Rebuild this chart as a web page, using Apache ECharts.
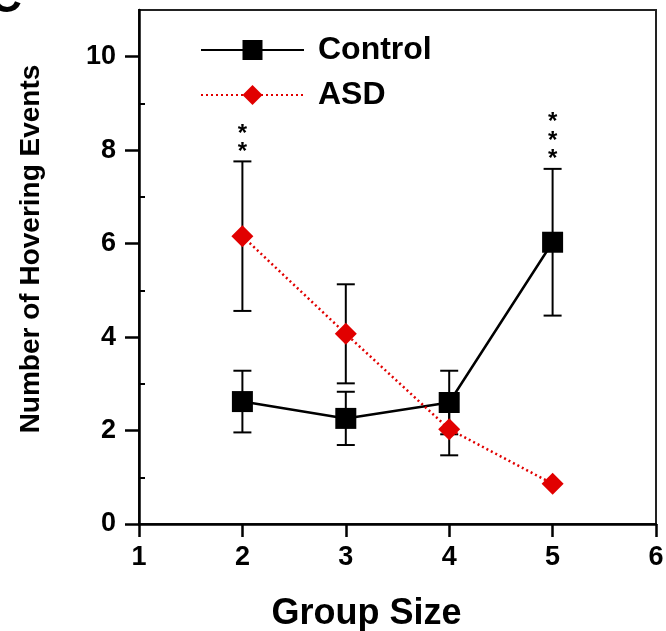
<!DOCTYPE html>
<html>
<head>
<meta charset="utf-8">
<script src="https://cdn.jsdelivr.net/npm/echarts@6/dist/echarts.min.js"></script>
<style>
  html, body { margin: 0; padding: 0; background: #fff; }
  #chart { width: 666px; height: 631px; }
</style>
</head>
<body>
<div id="chart"></div>
<script>
// Hovering events by group size (mean ± error)
const groupSizes = [2, 3, 4, 5];
const controlMean = [2.62, 2.26, 2.6, 6.03];
const controlErr = [0.66, 0.57, 0.68, 1.57];
const asdMean = [6.16, 4.07, 2.03, 0.86];
const asdErr = [1.6, 1.06, 0.56, 0];

// significance markers
const sigGroups = [2, 5];
const sigStars = ['**', '***'];

// axis ticks
const xTicks = [1, 2, 3, 4, 5, 6];
const yTicks = [0, 2, 4, 6, 8, 10];
const yMinorTicks = [1, 3, 5, 7, 9];

const FONT = '"Liberation Sans", Arial, Helvetica, sans-serif';
const RED = '#e10000';

function errorBars(means, errs) {
  return {
    type: 'custom',
    silent: true,
    z: 1,
    data: groupSizes.map((g, i) => [g, means[i] - errs[i], means[i] + errs[i]]),
    renderItem(params, api) {
      const x = api.value(0), lo = api.value(1), hi = api.value(2);
      if (hi - lo <= 0) return null;
      const a = api.coord([x, lo]);
      const b = api.coord([x, hi]);
      const cap = 9;
      const st = { stroke: '#000', lineWidth: 2 };
      return {
        type: 'group',
        children: [
          { type: 'line', shape: { x1: a[0], y1: a[1], x2: b[0], y2: b[1] }, style: st },
          { type: 'line', shape: { x1: a[0] - cap, y1: a[1], x2: a[0] + cap, y2: a[1] }, style: st },
          { type: 'line', shape: { x1: b[0] - cap, y1: b[1], x2: b[0] + cap, y2: b[1] }, style: st }
        ]
      };
    }
  };
}

// star labels sit above the highest error cap of each group
const sigData = sigGroups.map(g => {
  const i = groupSizes.indexOf(g);
  return [g, Math.max(controlMean[i] + controlErr[i], asdMean[i] + asdErr[i])];
});

const chart = echarts.init(document.getElementById('chart'), null, { renderer: 'canvas' });

chart.setOption({
  animation: false,
  backgroundColor: '#fff',
  graphic: [{
    type: 'text', left: -10, top: -22,
    style: { text: 'C', font: 'bold 44px ' + FONT, fill: '#000' }
  }],
  grid: {
    left: 139, right: 10, top: 10, bottom: 107,
    outerBoundsMode: 'none',
    show: true, borderColor: '#222', borderWidth: 2, backgroundColor: 'transparent'
  },
  legend: {
    left: 195, top: 29, orient: 'vertical',
    itemWidth: 103, itemHeight: 25, itemGap: 13,
    selectedMode: false,
    textStyle: { fontFamily: FONT, fontSize: 32, fontWeight: 'bold', color: '#000', lineHeight: 32, padding: [0, 0, 0, 9] },
    data: ['Control', 'ASD']
  },
  xAxis: {
    type: 'value', min: 1, max: 6, interval: 1,
    axisLine: { lineStyle: { color: '#000', width: 2.5 } },
    axisTick: { show: true, length: 13, lineStyle: { color: '#000', width: 2.5 }, customValues: xTicks },
    axisLabel: { fontFamily: FONT, fontSize: 27, fontWeight: 'bold', color: '#000', margin: 20, customValues: xTicks },
    splitLine: { show: false },
    name: 'Group Size', nameLocation: 'middle', nameGap: 72,
    nameTextStyle: { fontFamily: FONT, fontSize: 36, fontWeight: 'bold', color: '#000', padding: [0, 62, 0, 0] }
  },
  yAxis: [{
    type: 'value', min: 0, max: 11, interval: 1, position: 'left',
    axisLine: { show: true, lineStyle: { color: '#000', width: 2.5 } },
    axisTick: { show: true, length: 14, lineStyle: { color: '#000', width: 2.5 }, customValues: yTicks },
    axisLabel: { fontFamily: FONT, fontSize: 27, fontWeight: 'bold', color: '#000', margin: 23, customValues: yTicks },
    splitLine: { show: false },
    name: 'Number of Hovering Events', nameLocation: 'middle', nameGap: 94,
    nameTextStyle: { fontFamily: FONT, fontSize: 28, fontWeight: 'bold', color: '#000', padding: [0, 0, 0, 36] }
  }, {
    type: 'value', min: 0, max: 11, interval: 1, position: 'left', offset: 0,
    axisLine: { show: false },
    axisTick: { show: true, inside: true, length: 6, lineStyle: { color: '#000', width: 2 }, customValues: yMinorTicks },
    axisLabel: { show: false },
    splitLine: { show: false }
  }],
  series: [
    errorBars(controlMean, controlErr),
    errorBars(asdMean, asdErr),
    {
      name: 'Control', type: 'line', z: 3,
      data: groupSizes.map((g, i) => [g, controlMean[i]]),
      symbol: 'rect', symbolSize: 21,
      itemStyle: { color: '#000' },
      lineStyle: { color: '#000', width: 2.5 }
    },
    {
      name: 'ASD', type: 'line', z: 4,
      data: groupSizes.map((g, i) => [g, asdMean[i]]),
      symbol: 'diamond', symbolSize: 22,
      itemStyle: { color: RED },
      lineStyle: { color: RED, width: 2.5, type: [2, 3] }
    },
    {
      type: 'custom', silent: true, z: 5,
      data: sigData,
      renderItem(params, api) {
        const p = api.coord([api.value(0), api.value(1)]);
        const n = sigStars[params.dataIndex].length;
        const children = [];
        for (let k = 0; k < n; k++) {
          children.push({
            type: 'text',
            style: {
              text: '*', x: p[0], y: p[1] - 9 - 18.5 * k,
              font: 'bold 24px ' + FONT, fill: '#000',
              align: 'center', verticalAlign: 'middle'
            }
          });
        }
        return { type: 'group', children };
      }
    }
  ]
});
</script>
</body>
</html>
